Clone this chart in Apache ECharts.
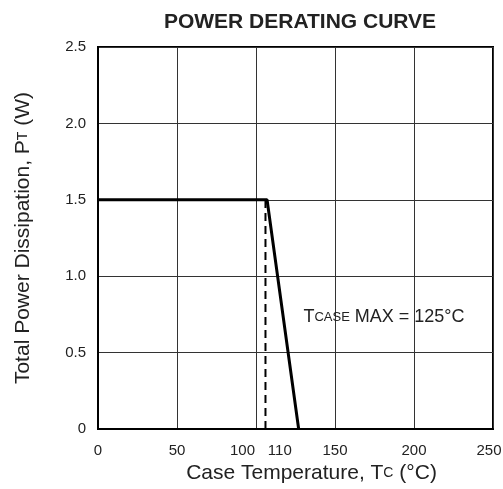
<!DOCTYPE html>
<html><head><meta charset="utf-8">
<script src="https://cdn.jsdelivr.net/npm/echarts@6/dist/echarts.min.js"></script>
<style>html,body{margin:0;padding:0;background:#fff}#c{width:503px;height:489px}</style>
</head><body><div id="c"></div>
<script>
const xTicks = [0, 50, 100, 110, 150, 200, 250];
const yTicks = [0, 0.5, 1.0, 1.5, 2.0, 2.5];
const deratingCurve = [[0, 1.5], [107, 1.5], [127, 0]];
const dashedMarker = [[106, 0], [106, 1.5]];
const annotation = { x: 130, y: 0.73 };

const chart = echarts.init(document.getElementById('c'));
const F = 'Liberation Sans, Arial, sans-serif';
const C = '#222';
chart.setOption({
  animation: false,
  title: { text: 'POWER DERATING CURVE', left: 295, textAlign: 'center', top: 7,
    textStyle: { fontFamily: F, fontWeight: 'bold', fontSize: 21, color: C } },
  grid: { left: 98, right: 10, top: 47, bottom: 60, show: true, borderColor: '#000', borderWidth: 2,
    outerBoundsMode: 'none', containLabel: false },
  xAxis: {
    type: 'value', min: 0, max: 250, interval: 50,
    name: 'Case Temperature, T{s|C} (°C)', nameLocation: 'middle', nameGap: 33,
    nameTextStyle: { fontFamily: F, fontSize: 21, color: C, padding: [0, 0, 0, 32],
      rich: { s: { fontFamily: F, fontSize: 14, color: C } } },
    axisLine: { show: true, lineStyle: { color: '#000', width: 2 } },
    axisTick: { show: false },
    splitLine: { show: true, lineStyle: { color: '#333', width: 1 } },
    axisLabel: {
      customValues: xTicks, margin: 14, fontFamily: F, fontSize: 15, color: C,
      formatter: v => v === 100 ? '{l|100}' : (v === 110 ? '{r|110}' : (v === 250 ? '{e|250}' : String(v))),
      rich: { l: { fontFamily: F, fontSize: 15, color: C, padding: [0, 27, 0, 0] },
              r: { fontFamily: F, fontSize: 15, color: C, padding: [0, 0, 0, 16] },
              e: { fontFamily: F, fontSize: 15, color: C, padding: [0, 8, 0, 0] } }
    }
  },
  yAxis: {
    type: 'value', min: 0, max: 2.5, interval: 0.5,
    name: 'Total Power Dissipation, P{s|T} (W)', nameLocation: 'middle', nameGap: 64,
    nameTextStyle: { fontFamily: F, fontSize: 21, color: C, rich: { s: { fontFamily: F, fontSize: 14, color: C } } },
    axisLine: { show: true, lineStyle: { color: '#000', width: 2 } },
    axisTick: { show: false },
    splitLine: { show: true, lineStyle: { color: '#333', width: 1 } },
    axisLabel: { customValues: yTicks, margin: 12, fontFamily: F, fontSize: 15, color: C,
      formatter: v => v === 0 ? '0' : v.toFixed(1) }
  },
  series: [
    { type: 'line', data: deratingCurve, symbol: 'none', lineStyle: { color: '#000', width: 3 }, z: 5 },
    { type: 'line', data: dashedMarker, symbol: 'none', lineStyle: { color: '#000', width: 2, type: [8, 5] }, z: 4 }
  ]
});
const p = chart.convertToPixel({ gridIndex: 0 }, [annotation.x, annotation.y]);
chart.setOption({ graphic: [{ type: 'text', x: p[0], y: p[1], style: {
  text: 'T{s|CASE} MAX = 125°C', fontFamily: F, fontSize: 18, fill: C, verticalAlign: 'middle',
  rich: { s: { fontFamily: F, fontSize: 13, fill: C } } } }] });
</script></body></html>
